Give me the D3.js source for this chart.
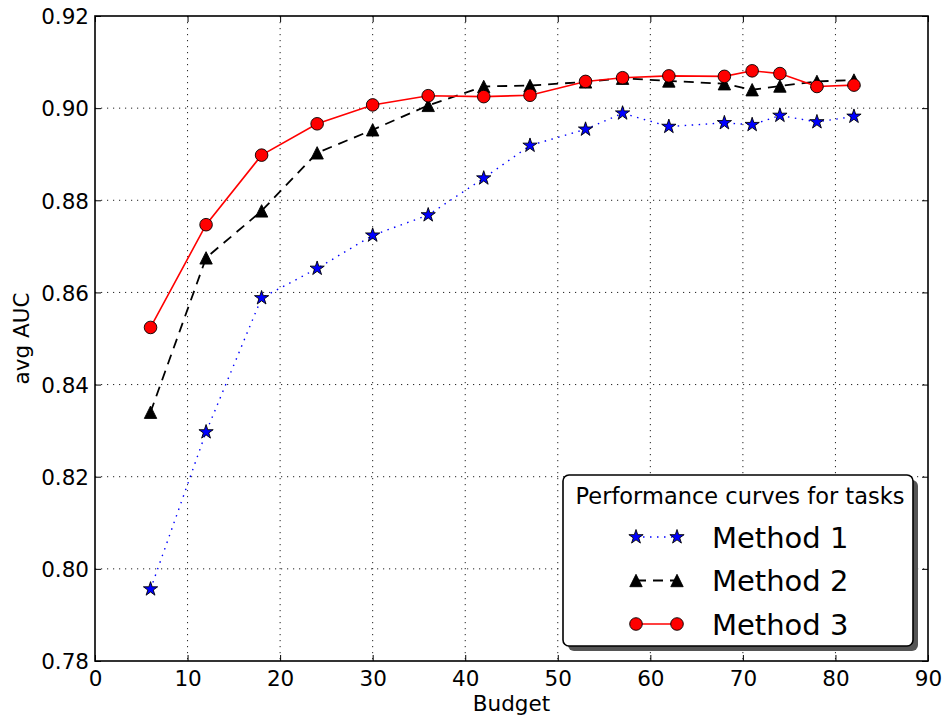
<!DOCTYPE html>
<html>
<head>
<meta charset="utf-8">
<script src="https://cdn.jsdelivr.net/npm/d3@7"></script>
<style>
  html, body { margin: 0; padding: 0; background: #fff; }
  svg text { font-family: "DejaVu Sans", sans-serif; fill: #000; }
</style>
</head>
<body>
<svg id="chart" width="945" height="718"></svg>
<script>
// Budget values on the x axis
const budget = [6, 12, 18, 24, 30, 36, 42, 47, 53, 57, 62, 68, 71, 74, 78, 82];

// Average AUC per method
const method1 = [0.7956, 0.8297, 0.8588, 0.8652, 0.8724, 0.8768, 0.8848, 0.8919,
                 0.8954, 0.8989, 0.8960, 0.8968, 0.8964, 0.8984, 0.8970, 0.8982];
const method2 = [0.8340, 0.8675, 0.8777, 0.8903, 0.8953, 0.9006, 0.9047, 0.9049,
                 0.9057, 0.9065, 0.9059, 0.9053, 0.9040, 0.9048, 0.9058, 0.9061];
const method3 = [0.8524, 0.8747, 0.8898, 0.8966, 0.9007, 0.9027, 0.9025, 0.9028,
                 0.9058, 0.9066, 0.9070, 0.9069, 0.9081, 0.9075, 0.9047, 0.9050];

const seriesNames = ["Method 1", "Method 2", "Method 3"];
const legendTitle = "Performance curves for tasks";

const xTicks = [0, 10, 20, 30, 40, 50, 60, 70, 80, 90];
const yTicks = [0.78, 0.80, 0.82, 0.84, 0.86, 0.88, 0.90, 0.92];

const margin = { left: 95, top: 16, right: 17, bottom: 57 };
const W = 945, H = 718;
const iw = W - margin.left - margin.right;
const ih = H - margin.top - margin.bottom;

const svg = d3.select("#chart");
const g = svg.append("g").attr("transform", `translate(${margin.left},${margin.top})`);

const x = d3.scaleLinear().domain([0, 90]).range([0, iw]);
const y = d3.scaleLinear().domain([0.78, 0.92]).range([ih, 0]);

// Marker shapes
function starPath(R) {
  const r = R * 0.381966;
  const pts = [];
  for (let i = 0; i < 10; i++) {
    const rad = i % 2 === 0 ? R : r;
    const a = -Math.PI / 2 + i * Math.PI / 5;
    pts.push([rad * Math.cos(a), rad * Math.sin(a)]);
  }
  return "M" + pts.map(p => p[0].toFixed(2) + "," + p[1].toFixed(2)).join("L") + "Z";
}
function trianglePath(s) {
  return `M0,${-s}L${-s},${s}L${s},${s}Z`;
}

// Grid
const grid = g.append("g").attr("class", "grid");
grid.selectAll("line.gx").data(xTicks.slice(1, -1)).join("line")
  .attr("x1", d => x(d)).attr("x2", d => x(d))
  .attr("y1", 0).attr("y2", ih)
  .attr("stroke", "#222").attr("stroke-width", 1)
  .attr("stroke-dasharray", "1.2,4.8");
grid.selectAll("line.gy").data(yTicks.slice(1, -1)).join("line")
  .attr("x1", 0).attr("x2", iw)
  .attr("y1", d => y(d)).attr("y2", d => y(d))
  .attr("stroke", "#222").attr("stroke-width", 1)
  .attr("stroke-dasharray", "1.2,4.8");

// Axes with inward ticks on all sides
const tickLen = 6;
const axB = g.append("g").attr("transform", `translate(0,${ih})`)
  .call(d3.axisBottom(x).tickValues(xTicks).tickSize(-tickLen).tickPadding(10).tickFormat(d3.format("d")));
const axT = g.append("g")
  .call(d3.axisTop(x).tickValues(xTicks).tickSize(-tickLen).tickFormat(""));
const axL = g.append("g")
  .call(d3.axisLeft(y).tickValues(yTicks).tickSize(-tickLen).tickPadding(6).tickFormat(d3.format(".2f")));
const axR = g.append("g").attr("transform", `translate(${iw},0)`)
  .call(d3.axisRight(y).tickValues(yTicks).tickSize(-tickLen).tickFormat(""));
[axB, axT, axL, axR].forEach(a => {
  a.select(".domain").remove();
  a.selectAll(".tick line").attr("stroke", "#000").attr("stroke-width", 1);
  a.selectAll("text").style("font-family", "DejaVu Sans").style("font-size", "21.5px").attr("fill", "#000");
});
axB.selectAll("text").attr("dy", "0.71em");
axL.selectAll("text").attr("dy", "0.36em");

// Series
const series = [
  { name: seriesNames[0], values: method1, color: "#0000ff", dash: "1.5,5.5", width: 1.4,
    marker: starPath(7.5), fill: "#0000ff" },
  { name: seriesNames[1], values: method2, color: "#000000", dash: "10,7", width: 1.8,
    marker: trianglePath(6.2), fill: "#000000" },
  { name: seriesNames[2], values: method3, color: "#ff0000", dash: null, width: 1.6,
    marker: null, fill: "#ff0000" }
];

const line = d3.line().x(d => x(d[0])).y(d => y(d[1]));

series.forEach(s => {
  const pts = budget.map((b, i) => [b, s.values[i]]);
  g.append("path").datum(pts)
    .attr("fill", "none").attr("stroke", s.color)
    .attr("stroke-width", s.width)
    .attr("stroke-dasharray", s.dash)
    .attr("d", line);
});
series.forEach(s => {
  const pts = budget.map((b, i) => [b, s.values[i]]);
  const mg = g.append("g");
  if (s.marker) {
    mg.selectAll("path").data(pts).join("path")
      .attr("d", s.marker)
      .attr("transform", d => `translate(${x(d[0])},${y(d[1])})`)
      .attr("fill", s.fill).attr("stroke", "#000").attr("stroke-width", 0.9);
  } else {
    mg.selectAll("circle").data(pts).join("circle")
      .attr("cx", d => x(d[0])).attr("cy", d => y(d[1])).attr("r", 6.3)
      .attr("fill", s.fill).attr("stroke", "#000").attr("stroke-width", 0.9);
  }
});

// Frame
g.append("rect").attr("x", 0).attr("y", 0).attr("width", iw).attr("height", ih)
  .attr("fill", "none").attr("stroke", "#000").attr("stroke-width", 1.6);

// Axis labels
svg.append("text").attr("x", margin.left + iw / 2).attr("y", 711)
  .attr("text-anchor", "middle").style("font-size", "21.5px").text("Budget");
svg.append("text")
  .attr("transform", `translate(29,${margin.top + ih / 2}) rotate(-90)`)
  .attr("text-anchor", "middle").style("font-size", "21.5px").text("avg AUC");

// Legend
const lg = svg.append("g").attr("transform", "translate(563,475)");
const lw = 350, lh = 171;
lg.append("rect").attr("x", 5).attr("y", 5).attr("width", lw).attr("height", lh)
  .attr("rx", 6).attr("fill", "#555");
lg.append("rect").attr("x", 0).attr("y", 0).attr("width", lw).attr("height", lh)
  .attr("rx", 6).attr("fill", "#fff").attr("stroke", "#000").attr("stroke-width", 1.6);
lg.append("text").attr("x", lw / 2 + 2).attr("y", 29)
  .attr("text-anchor", "middle").style("font-size", "22.5px").text(legendTitle);

series.forEach((s, i) => {
  const cy = 62 + i * 43.5;
  const x1 = 73, x2 = 114;
  lg.append("line").attr("x1", x1).attr("x2", x2).attr("y1", cy).attr("y2", cy)
    .attr("stroke", s.color).attr("stroke-width", s.width).attr("stroke-dasharray", s.dash);
  [x1, x2].forEach(px => {
    if (s.marker) {
      lg.append("path").attr("d", s.marker).attr("transform", `translate(${px},${cy})`)
        .attr("fill", s.fill).attr("stroke", "#000").attr("stroke-width", 0.9);
    } else {
      lg.append("circle").attr("cx", px).attr("cy", cy).attr("r", 6.3)
        .attr("fill", s.fill).attr("stroke", "#000").attr("stroke-width", 0.9);
    }
  });
  lg.append("text").attr("x", 149).attr("y", cy + 10.5)
    .style("font-size", "29px").text(s.name);
});
</script>
</body>
</html>
